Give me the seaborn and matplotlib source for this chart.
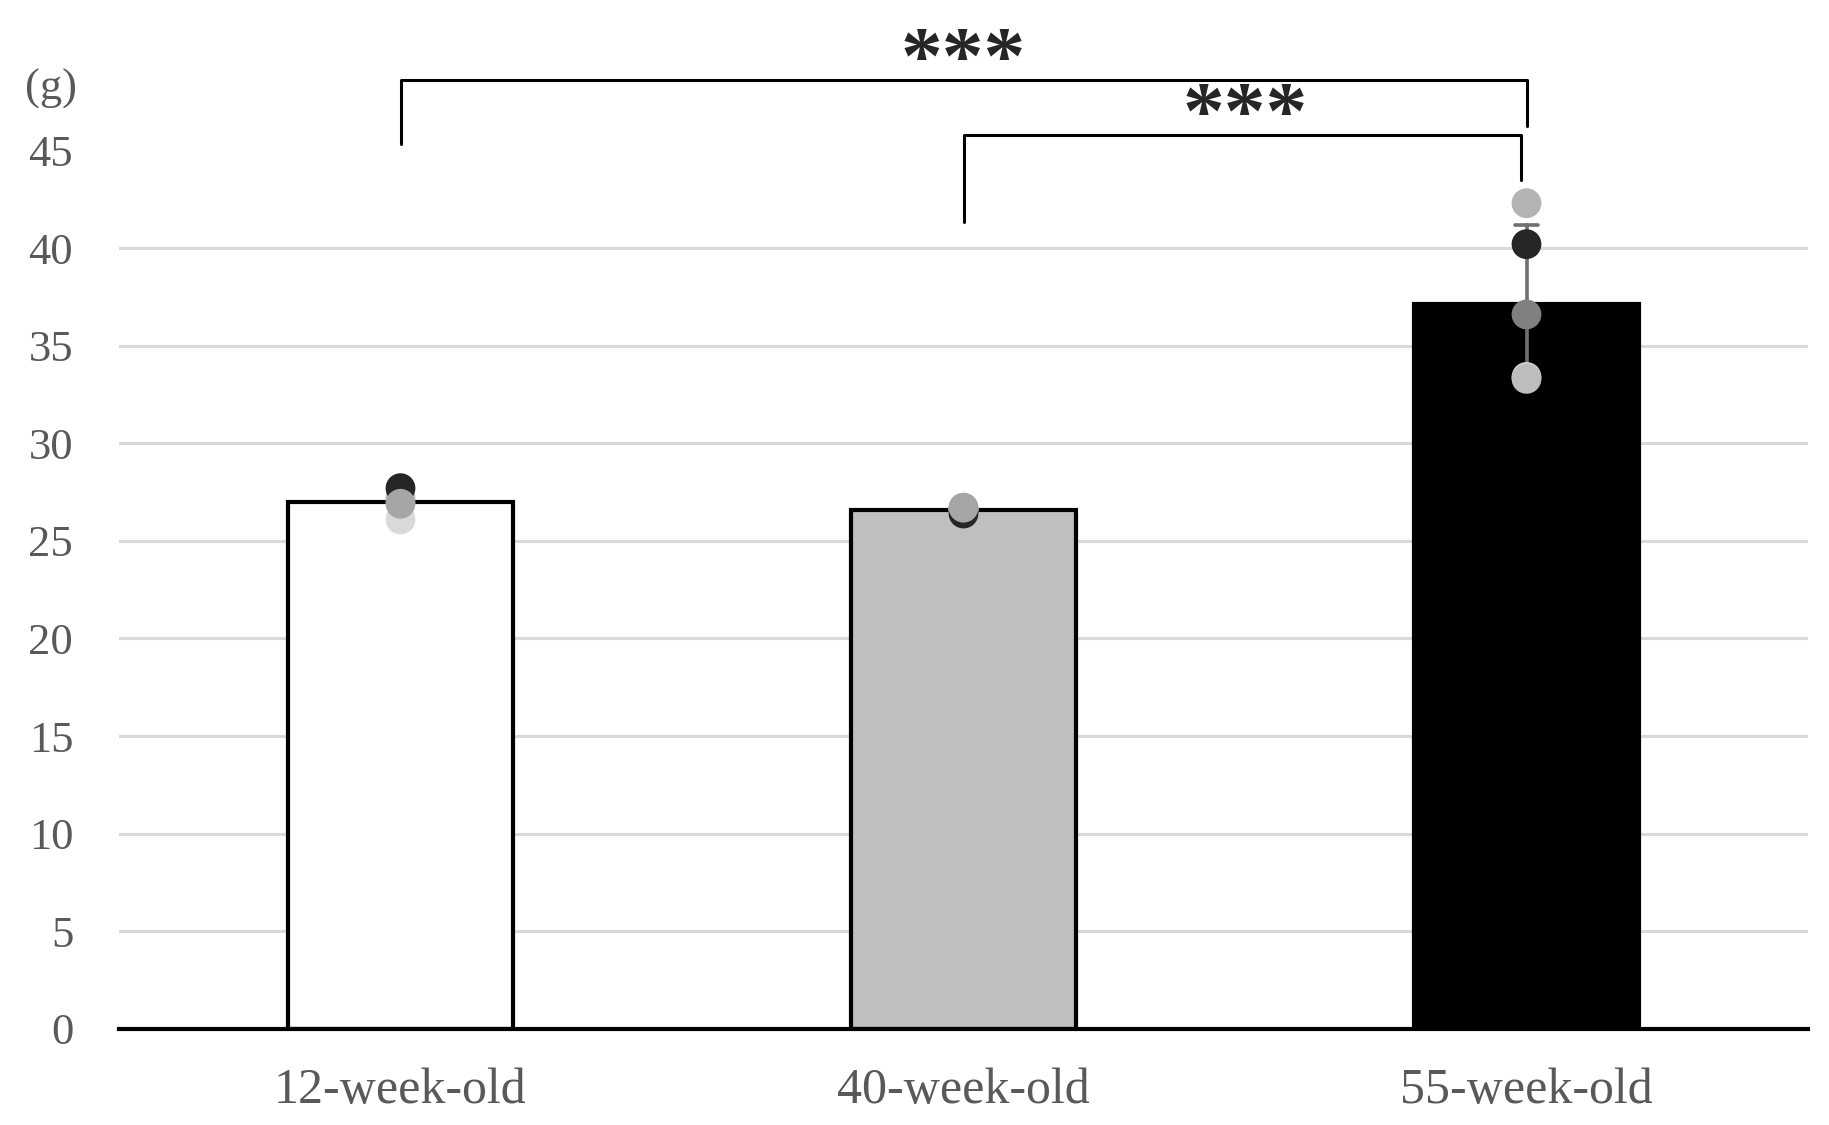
import matplotlib
matplotlib.use('Agg')
import matplotlib.pyplot as plt
import seaborn as sns
import pandas as pd
import numpy as np

# Data
groups = ['12-week-old', '40-week-old', '55-week-old']
weights_12 = [27.0, 27.2, 26.1, 27.7, 26.9]
weights_40 = [26.6, 26.7, 26.6, 26.4, 26.7]
weights_55 = [33.4, 42.3, 40.2, 36.6, 33.3]
dot_colors_12 = ['#7f7f7f', '#bfbfbf', '#d9d9d9', '#262626', '#a6a6a6']
dot_colors_40 = ['#7f7f7f', '#bfbfbf', '#d9d9d9', '#262626', '#a6a6a6']
dot_colors_55 = ['#d0d0d0', '#b3b3b3', '#262626', '#808080', '#bdbdbd']
bar_colors = ['#ffffff', '#bfbfbf', '#000000']
y_ticks = [0, 5, 10, 15, 20, 25, 30, 35, 40, 45]

df = pd.DataFrame({
    'group': np.repeat(groups, 5),
    'weight': weights_12 + weights_40 + weights_55,
})

sns.set_style('white')
plt.rcParams['font.family'] = ['Liberation Serif', 'DejaVu Serif']

fig = plt.figure(figsize=(18.29, 11.25), dpi=100)
ax = fig.add_axes([119 / 1829, 1 - 1028.8 / 1125, (1808 - 119) / 1829, (1028.8 - 150.5) / 1125])

sns.barplot(data=df, x='group', y='weight', hue='group', palette=bar_colors,
            order=groups, hue_order=groups, legend=False, dodge=False,
            width=0.4, errorbar='sd', capsize=0.04,
            err_kws={'color': '#707070', 'linewidth': 2.6},
            edgecolor='black', linewidth=3, ax=ax)

# individual points
for i, (vals, cols) in enumerate([(weights_12, dot_colors_12),
                                  (weights_40, dot_colors_40),
                                  (weights_55, dot_colors_55)]):
    ax.scatter([i] * len(vals), vals, s=460, c=cols, edgecolors='none', zorder=5)

ax.set_xlim(-0.5, 2.5)
ax.set_ylim(0, 45)
ax.set_yticks(y_ticks)
ax.set_xlabel('')
ax.set_ylabel('')

ax.set_axisbelow(True)
ax.yaxis.grid(True, color='#d9d9d9', linewidth=2.2)
ax.get_ygridlines()[-1].set_visible(False)

for s in ['left', 'right', 'top']:
    ax.spines[s].set_visible(False)
ax.spines['bottom'].set_color('black')
ax.spines['bottom'].set_linewidth(3)
ax.spines['bottom'].set_zorder(6)

ax.tick_params(axis='y', length=0, pad=33, labelsize=32, labelcolor='#595959')
ax.tick_params(axis='x', length=0, pad=28, labelsize=36, labelcolor='#595959')

# significance brackets
ax.plot([0, 0, 2, 2], [45.35, 48.6, 48.6, 46.25], color='black', lw=2.2, clip_on=False)
ax.plot([1, 1, 1.99, 1.99], [41.35, 45.81, 45.81, 43.5], color='black', lw=2.2, clip_on=False)
ax.text(1, 49.45, '***', ha='center', va='center', fontsize=60, fontweight='bold', clip_on=False)
ax.text(1.5, 46.65, '***', ha='center', va='center', fontsize=60, fontweight='bold', clip_on=False)

fig.text(51 / 1829, 1 - 89 / 1125, '(g)', ha='center', va='center', fontsize=32, color='#595959')

fig.savefig('out.png', dpi=100, facecolor='white')
